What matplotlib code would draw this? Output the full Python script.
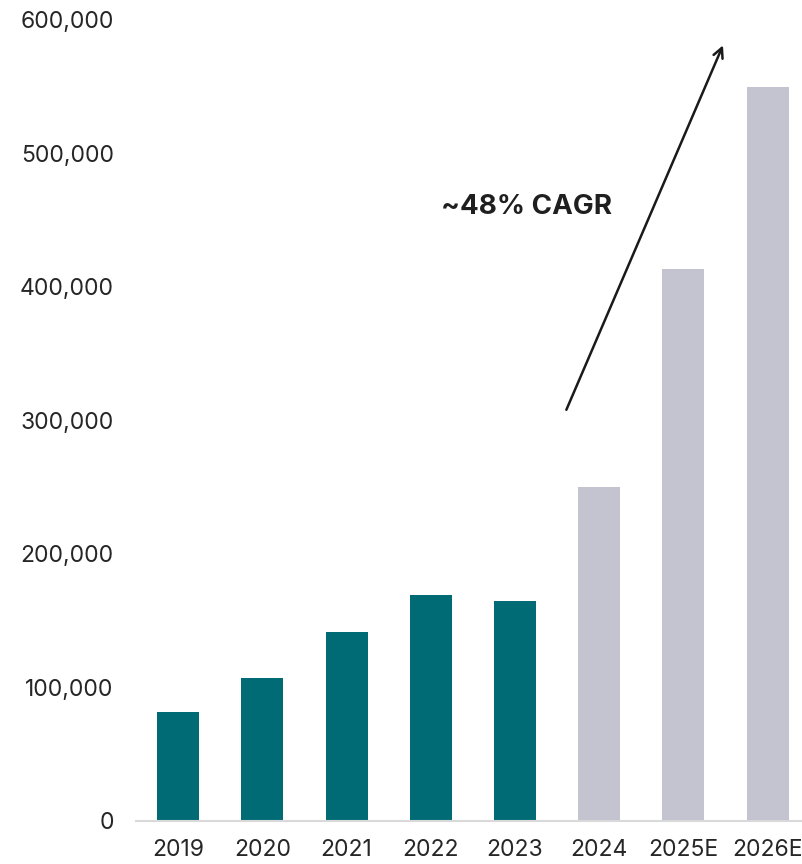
import matplotlib
matplotlib.use("Agg")
import matplotlib.pyplot as plt
from matplotlib.ticker import FuncFormatter

# Annual volume, actuals through 2023, estimates after
YEARS = ["2019", "2020", "2021", "2022", "2023", "2024", "2025E", "2026E"]
VALUES = [82000, 107000, 141500, 169500, 165000, 250000, 413500, 550000]
IS_ACTUAL = [True, True, True, True, True, False, False, False]

CAGR_LABEL = "~48% CAGR"

TEAL = "#006b74"
GREY = "#c4c4d0"
TEXT = "#262626"
AXIS = "#d9d9d9"

FONT = "Inter"

fig = plt.figure(figsize=(8.03, 8.64), dpi=100, facecolor="white")
ax = fig.add_axes([0.1694, 0.0498, 0.8306, 0.9271])

xs = range(len(YEARS))
colors = [TEAL if a else GREY for a in IS_ACTUAL]
ax.bar(xs, VALUES, width=0.5, color=colors, zorder=2)

ax.set_xlim(-0.5, 7.42)
ax.set_ylim(0, 600000)
ax.set_yticks(range(0, 600001, 100000))
ax.yaxis.set_major_formatter(FuncFormatter(lambda v, _: f"{int(v):,}"))
ax.set_xticks(list(xs))
ax.set_xticklabels(YEARS)

for s in ("top", "right", "left"):
    ax.spines[s].set_visible(False)
ax.spines["bottom"].set_color(AXIS)
ax.spines["bottom"].set_linewidth(1.5)

ax.tick_params(axis="both", length=0, labelsize=16.5, colors=TEXT)
ax.tick_params(axis="y", pad=16)
ax.tick_params(axis="x", pad=13)
for lab in ax.get_xticklabels() + ax.get_yticklabels():
    lab.set_fontfamily(FONT)

# growth arrow + label
ax.annotate("", xy=(6.47, 581000), xytext=(4.61, 308000),
            arrowprops=dict(arrowstyle="->,head_length=0.7,head_width=0.35",
                            color="#1a1a1a", lw=1.8, shrinkA=0, shrinkB=0))
ax.text(4.14, 460000, CAGR_LABEL, ha="center", va="center",
        fontfamily=FONT, fontweight="bold", fontsize=20, color="#1f1f1f")

fig.savefig("out.png", dpi=100, facecolor="white")
